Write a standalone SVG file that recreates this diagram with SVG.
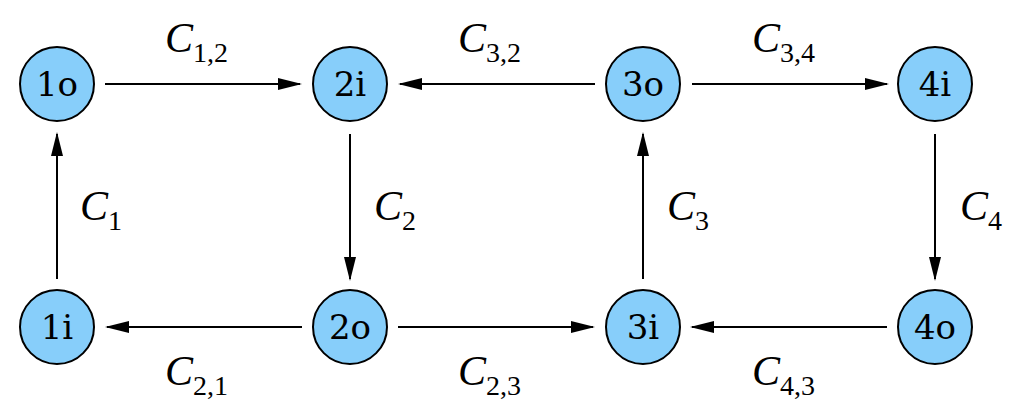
<svg xmlns="http://www.w3.org/2000/svg" width="1024" height="415" viewBox="0 0 1024 415">
<style>
.n{fill:#87cefa;stroke:#000;stroke-width:2}
.t{font-family:"DejaVu Serif","Liberation Serif",serif;font-size:34px;text-anchor:middle}
.l{font-family:"Liberation Serif",serif;font-size:42px;font-style:italic}
.s{font-size:28px;font-style:normal}
.e{stroke:#000;stroke-width:2;fill:none;marker-end:url(#a)}
</style>
<defs><marker id="a" markerWidth="24" markerHeight="12" refX="22" refY="6" orient="auto" markerUnits="userSpaceOnUse"><path d="M0,0L24,6L0,12z"/></marker></defs>
<rect width="1024" height="415" fill="#fff"/>
<g id="connectors">
<path class="e" d="M105,84H300"/>
<path class="e" d="M595,84H400"/>
<path class="e" d="M692,84H887"/>
<path class="e" d="M57,279V134"/>
<path class="e" d="M350,134V279"/>
<path class="e" d="M643,279V134"/>
<path class="e" d="M935,134V279"/>
<path class="e" d="M302,327H107"/>
<path class="e" d="M398,327H593"/>
<path class="e" d="M887,327H692"/>
</g>
<g id="labels">
<text class="l" x="165" y="52">C<tspan class="s" dy="10">1,2</tspan></text>
<text class="l" x="458" y="52">C<tspan class="s" dy="10">3,2</tspan></text>
<text class="l" x="752" y="52">C<tspan class="s" dy="10">3,4</tspan></text>
<text class="l" x="80" y="220">C<tspan class="s" dy="10">1</tspan></text>
<text class="l" x="374" y="220">C<tspan class="s" dy="10">2</tspan></text>
<text class="l" x="667" y="220">C<tspan class="s" dy="10">3</tspan></text>
<text class="l" x="960" y="220">C<tspan class="s" dy="10">4</tspan></text>
<text class="l" x="165" y="385">C<tspan class="s" dy="10">2,1</tspan></text>
<text class="l" x="458" y="385">C<tspan class="s" dy="10">2,3</tspan></text>
<text class="l" x="752" y="385">C<tspan class="s" dy="10">4,3</tspan></text>
</g>
<g id="n1o"><circle class="n" cx="57" cy="84" r="37"/><text class="t" x="57" y="96">1o</text></g>
<g id="n2i"><circle class="n" cx="350" cy="84" r="37"/><text class="t" x="350" y="96">2i</text></g>
<g id="n3o"><circle class="n" cx="643" cy="84" r="37"/><text class="t" x="643" y="96">3o</text></g>
<g id="n4i"><circle class="n" cx="935" cy="84" r="37"/><text class="t" x="935" y="96">4i</text></g>
<g id="n1i"><circle class="n" cx="57" cy="327" r="37"/><text class="t" x="57" y="339">1i</text></g>
<g id="n2o"><circle class="n" cx="350" cy="327" r="37"/><text class="t" x="350" y="339">2o</text></g>
<g id="n3i"><circle class="n" cx="643" cy="327" r="37"/><text class="t" x="643" y="339">3i</text></g>
<g id="n4o"><circle class="n" cx="935" cy="327" r="37"/><text class="t" x="935" y="339">4o</text></g>
</svg>
